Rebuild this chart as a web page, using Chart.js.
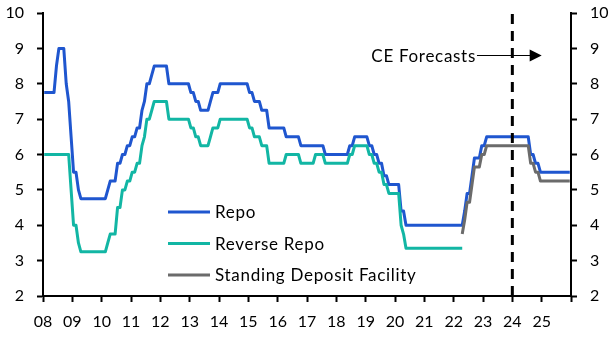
<!DOCTYPE html>
<html>
<head>
<meta charset="utf-8">
<script src="https://cdn.jsdelivr.net/npm/chart.js@4.4.1/dist/chart.umd.min.js"></script>
<style>
  html, body { margin: 0; padding: 0; background: #ffffff; }
  #wrap { width: 614px; height: 338px; }
</style>
</head>
<body>
<div id="wrap"><canvas id="c" width="614" height="338"></canvas></div>
<script>
// Indian policy rates, % (month-end values, one per month)
const repoStart = 2008;          // first month: Jan 2008
const repo = [
  7.75, 7.75, 7.75, 7.75, 7.75, 8.5, 9, 9, 9, 8, 7.5, 6.5,               // 2008
  5.5, 5.5, 5, 4.75, 4.75, 4.75, 4.75, 4.75, 4.75, 4.75, 4.75, 4.75,     // 2009
  4.75, 4.75, 5, 5.25, 5.25, 5.25, 5.75, 5.75, 6, 6, 6.25, 6.25,         // 2010
  6.5, 6.5, 6.75, 6.75, 7.25, 7.5, 8, 8, 8.25, 8.5, 8.5, 8.5,            // 2011
  8.5, 8.5, 8.5, 8, 8, 8, 8, 8, 8, 8, 8, 8,                              // 2012
  7.75, 7.75, 7.5, 7.5, 7.25, 7.25, 7.25, 7.25, 7.5, 7.75, 7.75, 7.75,   // 2013
  8, 8, 8, 8, 8, 8, 8, 8, 8, 8, 8, 8,                                    // 2014
  7.75, 7.75, 7.5, 7.5, 7.5, 7.25, 7.25, 7.25, 6.75, 6.75, 6.75, 6.75,   // 2015
  6.75, 6.75, 6.75, 6.5, 6.5, 6.5, 6.5, 6.5, 6.5, 6.25, 6.25, 6.25,      // 2016
  6.25, 6.25, 6.25, 6.25, 6.25, 6.25, 6.25, 6, 6, 6, 6, 6,               // 2017
  6, 6, 6, 6, 6, 6.25, 6.25, 6.5, 6.5, 6.5, 6.5, 6.5,                    // 2018
  6.5, 6.25, 6.25, 6, 6, 5.75, 5.75, 5.4, 5.4, 5.15, 5.15, 5.15,         // 2019
  5.15, 5.15, 4.4, 4.4, 4, 4, 4, 4, 4, 4, 4, 4,                          // 2020
  4, 4, 4, 4, 4, 4, 4, 4, 4, 4, 4, 4,                                    // 2021
  4, 4, 4, 4, 4.4, 4.9, 4.9, 5.4, 5.9, 5.9, 5.9, 6.25,                   // 2022
  6.25, 6.5, 6.5, 6.5, 6.5, 6.5, 6.5, 6.5, 6.5, 6.5, 6.5, 6.5,           // 2023
  6.5, 6.5, 6.5, 6.5, 6.5, 6.5, 6.5, 6, 6, 5.75, 5.75, 5.5,              // 2024
  5.5, 5.5, 5.5, 5.5, 5.5, 5.5, 5.5, 5.5, 5.5, 5.5, 5.5, 5.5             // 2025
];

const reverseRepoStart = 2008;   // Jan 2008 .. Apr 2022
const reverseRepo = [
  6, 6, 6, 6, 6, 6, 6, 6, 6, 6, 6, 5,                                    // 2008
  4, 4, 3.5, 3.25, 3.25, 3.25, 3.25, 3.25, 3.25, 3.25, 3.25, 3.25,       // 2009
  3.25, 3.25, 3.5, 3.75, 3.75, 3.75, 4.5, 4.5, 5, 5, 5.25, 5.25,         // 2010
  5.5, 5.5, 5.75, 5.75, 6.25, 6.5, 7, 7, 7.25, 7.5, 7.5, 7.5,            // 2011
  7.5, 7.5, 7.5, 7, 7, 7, 7, 7, 7, 7, 7, 7,                              // 2012
  6.75, 6.75, 6.5, 6.5, 6.25, 6.25, 6.25, 6.25, 6.5, 6.75, 6.75, 6.75,   // 2013
  7, 7, 7, 7, 7, 7, 7, 7, 7, 7, 7, 7,                                    // 2014
  6.75, 6.75, 6.5, 6.5, 6.5, 6.25, 6.25, 6.25, 5.75, 5.75, 5.75, 5.75,   // 2015
  5.75, 5.75, 5.75, 6, 6, 6, 6, 6, 6, 5.75, 5.75, 5.75,                  // 2016
  5.75, 5.75, 5.75, 6, 6, 6, 6, 5.75, 5.75, 5.75, 5.75, 5.75,            // 2017
  5.75, 5.75, 5.75, 5.75, 5.75, 6, 6, 6.25, 6.25, 6.25, 6.25, 6.25,      // 2018
  6.25, 6, 6, 5.75, 5.75, 5.5, 5.5, 5.15, 5.15, 4.9, 4.9, 4.9,           // 2019
  4.9, 4.9, 4, 3.75, 3.35, 3.35, 3.35, 3.35, 3.35, 3.35, 3.35, 3.35,     // 2020
  3.35, 3.35, 3.35, 3.35, 3.35, 3.35, 3.35, 3.35, 3.35, 3.35, 3.35, 3.35, // 2021
  3.35, 3.35, 3.35, 3.35                                                 // 2022
];

const sdfStart = 2022 + 3 / 12;  // Apr 2022 onwards
const standingDeposit = [
  3.75, 4.15, 4.65, 4.65, 5.15, 5.65, 5.65, 5.65, 6,                     // 2022 (Apr-Dec)
  6, 6.25, 6.25, 6.25, 6.25, 6.25, 6.25, 6.25, 6.25, 6.25, 6.25, 6.25,   // 2023
  6.25, 6.25, 6.25, 6.25, 6.25, 6.25, 6.25, 5.75, 5.75, 5.5, 5.5, 5.25,  // 2024
  5.25, 5.25, 5.25, 5.25, 5.25, 5.25, 5.25, 5.25, 5.25, 5.25, 5.25, 5.25 // 2025
];

// Axis ranges and the start of the forecast period
const xRange = [2008, 2026];
const yRange = [2, 10];
const forecastYear = 2024;
const forecastNote = { text: 'CE Forecasts', textEnd: 2022.76, arrowTip: 2025.0, level: 8.81 };

const seriesNames = ['Repo', 'Reverse Repo', 'Standing Deposit Facility'];

// monthly values -> {x, y}, each month drawn at its mid-point
const toPoints = (start, values) => values.map((v, i) => ({ x: start + (i + 0.5) / 12, y: v }));

const FONT = 'Lato, "Open Sans", sans-serif';
const COLORS = ['#1f56cf', '#12b6a4', '#6b6b6b'];

const lineStyle = (color) => ({
  borderColor: color, backgroundColor: color, borderWidth: 3,
  pointRadius: 0, tension: 0, fill: false, borderJoinStyle: 'round'
});

function setLabelFont(ctx) {
  ctx.font = '17px ' + FONT;
  if ('letterSpacing' in ctx) ctx.letterSpacing = '0.7px';
}

// legend drawn inside the plot area
const insideLegend = {
  id: 'insideLegend',
  afterDatasetsDraw(chart) {
    const { ctx, chartArea } = chart;
    const left = chartArea.left + 125;
    const rows = [212, 243.5, 275];
    ctx.save();
    setLabelFont(ctx);
    ctx.textBaseline = 'middle';
    ctx.textAlign = 'left';
    seriesNames.forEach((name, i) => {
      const ds = chart.data.datasets[i];
      ctx.strokeStyle = ds.borderColor;
      ctx.lineWidth = 3;
      ctx.beginPath();
      ctx.moveTo(left, rows[i]);
      ctx.lineTo(left + 42, rows[i]);
      ctx.stroke();
      ctx.fillStyle = '#000';
      ctx.fillText(name, left + 47, rows[i] + 1);
    });
    ctx.restore();
  }
};

// "CE Forecasts" label with arrow
const forecastLabel = {
  id: 'forecastLabel',
  afterDatasetsDraw(chart) {
    const { ctx, scales: { x, y } } = chart;
    const yy = Math.round(y.getPixelForValue(forecastNote.level)) + 0.5;
    const x0 = x.getPixelForValue(forecastNote.textEnd);
    const x1 = x.getPixelForValue(forecastNote.arrowTip);
    ctx.save();
    setLabelFont(ctx);
    ctx.fillStyle = '#000';
    ctx.textAlign = 'right';
    ctx.textBaseline = 'middle';
    ctx.fillText(forecastNote.text, x0, yy + 1);
    ctx.strokeStyle = '#000';
    ctx.lineWidth = 1;
    ctx.beginPath();
    ctx.moveTo(x0 + 1, yy);
    ctx.lineTo(x1 - 11, yy);
    ctx.stroke();
    ctx.beginPath();
    ctx.moveTo(x1 - 12, yy - 6);
    ctx.lineTo(x1, yy);
    ctx.lineTo(x1 - 12, yy + 6);
    ctx.closePath();
    ctx.fill();
    ctx.restore();
  }
};

const axisGrid = { drawOnChartArea: false, drawTicks: true, tickLength: 6, tickColor: '#000', tickWidth: 2 };
const axisBorder = { display: true, color: '#000', width: 2 };
const tickFont = { family: FONT, size: 16 };

// fixed axis widths, no extra room reserved for end labels
const fitVertical = (s) => { s.width = 43; s.paddingTop = 0; s.paddingBottom = 0; };

new Chart(document.getElementById('c'), {
  type: 'line',
  data: {
    datasets: [
      { label: seriesNames[0], data: toPoints(repoStart, repo), order: 3, ...lineStyle(COLORS[0]) },
      { label: seriesNames[1], data: toPoints(reverseRepoStart, reverseRepo), order: 2, ...lineStyle(COLORS[1]) },
      { label: seriesNames[2], data: toPoints(sdfStart, standingDeposit), order: 1, ...lineStyle(COLORS[2]) },
      {
        label: 'forecast start',
        data: [{ x: forecastYear, y: yRange[0] }, { x: forecastYear, y: yRange[1] }],
        order: 0, borderColor: '#000', borderWidth: 3, borderDash: [10, 7],
        pointRadius: 0, fill: false, borderCapStyle: 'butt'
      }
    ]
  },
  options: {
    responsive: false,
    animation: false,
    devicePixelRatio: 1,
    layout: { padding: { top: 13, left: 0, right: 0, bottom: 0 } },
    plugins: { legend: { display: false }, tooltip: { enabled: false } },
    scales: {
      x: {
        type: 'linear', min: xRange[0], max: xRange[1],
        ticks: {
          stepSize: 1, autoSkip: false, maxRotation: 0, padding: 10, color: '#000', font: tickFont,
          callback: (v) => (v < xRange[1] ? String(v).slice(2) : '')
        },
        grid: axisGrid, border: axisBorder,
        afterFit(s) { s.height = 42; s.paddingLeft = 0; s.paddingRight = 0; }
      },
      y: {
        position: 'left', min: yRange[0], max: yRange[1],
        ticks: { stepSize: 1, padding: 13, color: '#000', font: tickFont },
        grid: axisGrid, border: axisBorder,
        afterFit: fitVertical
      },
      y2: {
        position: 'right', min: yRange[0], max: yRange[1],
        ticks: { stepSize: 1, padding: 13, color: '#000', font: tickFont },
        grid: axisGrid, border: axisBorder,
        afterFit: fitVertical
      }
    }
  },
  plugins: [insideLegend, forecastLabel]
});
</script>
</body>
</html>
